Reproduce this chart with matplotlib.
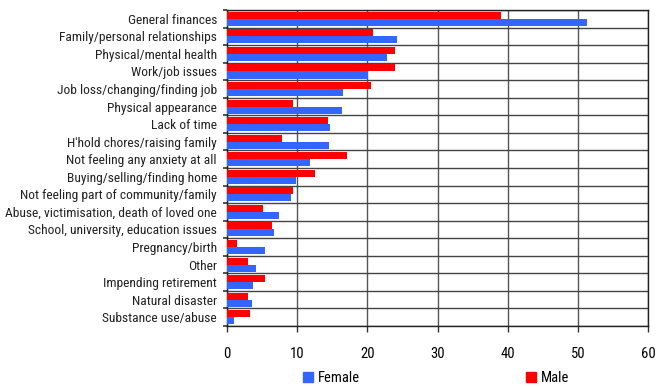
import matplotlib
matplotlib.use('Agg')
import matplotlib.pyplot as plt
import numpy as np
from matplotlib.patches import Patch

plt.rcParams['font.family'] = ['Roboto Condensed', 'Lato', 'DejaVu Sans']

# Sources of anxiety, per cent of respondents
categories = [
    'General finances', 'Family/personal relationships', 'Physical/mental health',
    'Work/job issues', 'Job loss/changing/finding job', 'Physical appearance',
    'Lack of time', "H'hold chores/raising family", 'Not feeling any anxiety at all',
    'Buying/selling/finding home', 'Not feeling part of community/family',
    'Abuse, victimisation, death of loved one', 'School, university, education issues',
    'Pregnancy/birth', 'Other', 'Impending retirement', 'Natural disaster',
    'Substance use/abuse',
]
male = [39.1, 20.8, 24.0, 24.0, 20.6, 9.4, 14.4, 7.8, 17.1, 12.5, 9.5, 5.1, 6.4,
        1.4, 3.0, 5.4, 3.0, 3.3]
female = [51.3, 24.3, 22.8, 20.1, 16.6, 16.4, 14.7, 14.5, 11.8, 9.8, 9.1, 7.5, 6.7,
          5.4, 4.1, 3.7, 3.6, 1.1]
x_ticks = [0, 10, 20, 30, 40, 50, 60]

red = '#ff0000'
blue = '#3366ff'

fig = plt.figure(figsize=(6.56, 3.87), dpi=100)
ax = fig.add_axes([0.3456, 0.1576, 0.6427, 0.8164])

y = np.arange(len(categories))
h = 0.40
ax.barh(y - h / 2, male, height=h, color=red, zorder=3)
ax.barh(y + h / 2, female, height=h, color=blue, zorder=3)

ax.set_xlim(0, 60)
ax.set_ylim(len(categories) - 0.5, -0.5)
ax.set_xticks(x_ticks)
ax.set_xticklabels([str(t) for t in x_ticks], fontsize=10.5)
ax.set_yticks(y)
ax.set_yticklabels(categories, fontsize=9.7, color='#222222')
ax.set_yticks(np.arange(len(categories) + 1) - 0.5, minor=True)

ax.tick_params(axis='y', which='major', length=0, pad=7)
ax.tick_params(axis='y', which='minor', length=3, width=1.2, color='#333333')
ax.tick_params(axis='x', length=4, width=1, pad=11, color='#333333')

ax.grid(axis='x', which='major', color='#555555', lw=1, zorder=1)
ax.grid(axis='y', which='minor', color='#444444', lw=1, zorder=1)
for s in ax.spines.values():
    s.set_color('#222222')
    s.set_linewidth(1)

handles = [Patch(color=blue, label='Female'), Patch(color=red, label='Male')]
fig.legend(handles=handles, loc='center', bbox_to_anchor=(0.665, 0.022), ncol=2,
           frameon=False, fontsize=10.5, handlelength=0.7, handleheight=0.7,
           handletextpad=0.3, columnspacing=11.4)

fig.savefig('out.png', dpi=100)
